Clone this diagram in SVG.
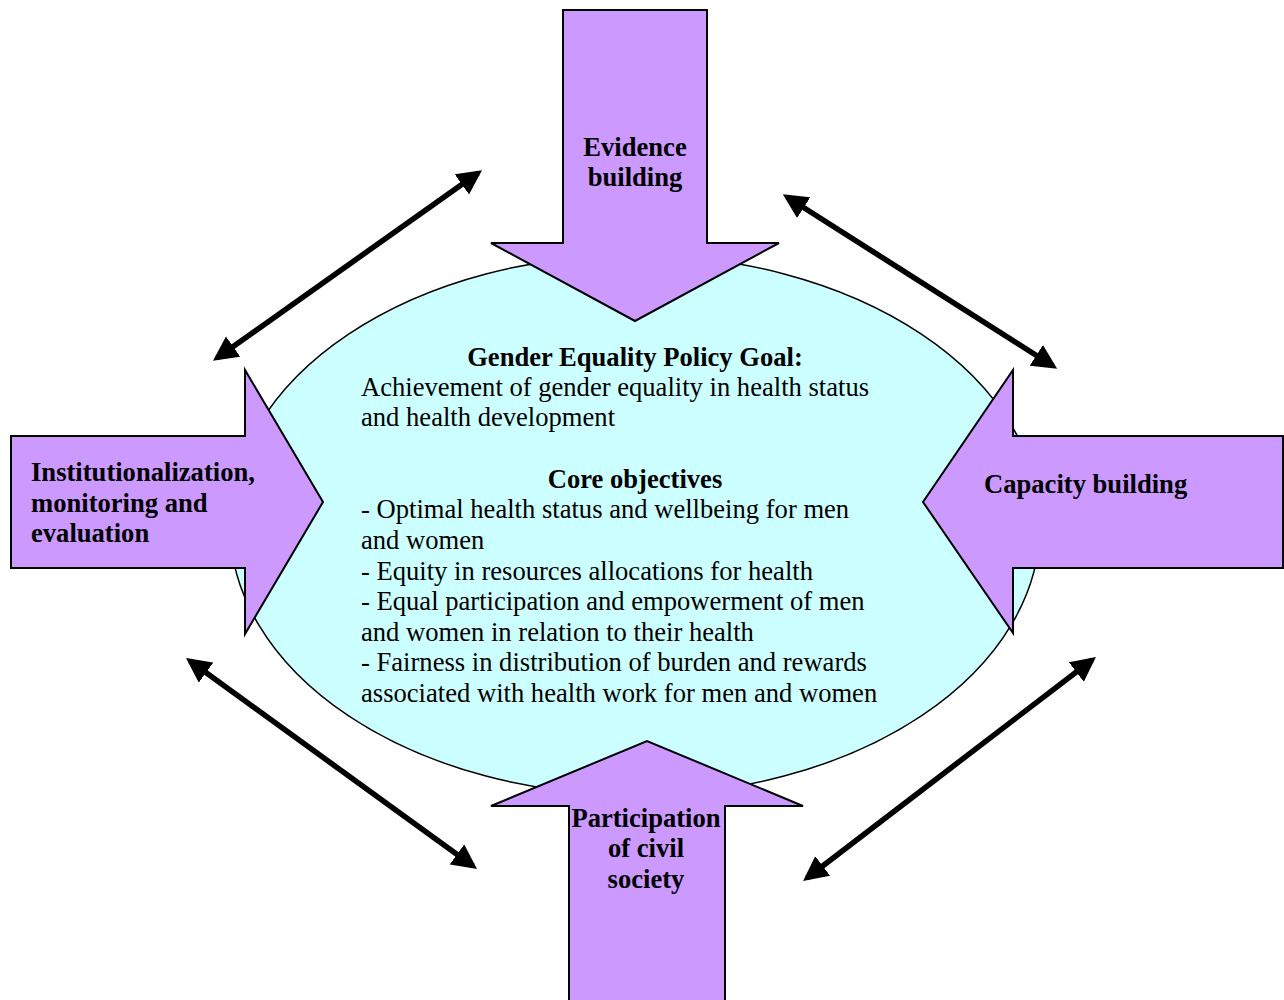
<svg xmlns="http://www.w3.org/2000/svg" width="1284" height="1000" viewBox="0 0 1284 1000">
<defs>
<style>
.arr{fill:#CC99FF;stroke:#000;stroke-width:2;stroke-linejoin:miter}
.t{font-family:"Liberation Serif","Times New Roman",serif;font-size:26.6px;fill:#000}
.b{font-weight:bold}
.c{text-anchor:middle}
.con{stroke:#000;stroke-width:5.5;fill:none;marker-start:url(#ah);marker-end:url(#ah)}
</style>
<marker id="ah" viewBox="0 0 10 10" refX="8" refY="5" markerWidth="4.5" markerHeight="4.5" orient="auto-start-reverse" markerUnits="strokeWidth">
<path d="M0,0 L10,5 L0,10 Z" fill="#000"/>
</marker>
</defs>
<rect width="1284" height="1000" fill="#fff"/>
<g id="goal">
<ellipse cx="635" cy="525" rx="405" ry="270" fill="#CCFFFF" stroke="#000" stroke-width="1.5"/>
</g>
<g id="evidence">
<polygon class="arr" points="563,10 707,10 707,243 779,243 635,321 491,243 563,243"/>
<text class="t b c" x="635" y="156">Evidence</text>
<text class="t b c" x="635" y="186">building</text>
</g>
<g id="institutionalization">
<polygon class="arr" points="11,436 245,436 245,370 323,502 245,634 245,568 11,568"/>
<text class="t b" x="31" y="481">Institutionalization,</text>
<text class="t b" x="31" y="512">monitoring and</text>
<text class="t b" x="31" y="542">evaluation</text>
</g>
<g id="capacity">
<polygon class="arr" points="1283,436 1013,436 1013,370 923,502 1013,633 1013,568 1283,568"/>
<text class="t b" x="984" y="493">Capacity building</text>
</g>
<g id="participation">
<polygon class="arr" points="569,1001 569,806 491,806 647,741 803,806 725,806 725,1001"/>
<text class="t b c" x="646" y="827">Participation</text>
<text class="t b c" x="646" y="857">of civil</text>
<text class="t b c" x="646" y="888">society</text>
</g>
<g id="goal-text">
<text class="t b c" x="635" y="366">Gender Equality Policy Goal:</text>
<text class="t" x="361" y="396">Achievement of gender equality in health status</text>
<text class="t" x="361" y="426">and health development</text>
<text class="t b c" x="635" y="488">Core objectives</text>
<text class="t" x="361" y="518">- Optimal health status and wellbeing for men</text>
<text class="t" x="361" y="549">and women</text>
<text class="t" x="361" y="580">- Equity in resources allocations for health</text>
<text class="t" x="361" y="610">- Equal participation and empowerment of men</text>
<text class="t" x="361" y="641">and women in relation to their health</text>
<text class="t" x="361" y="671">- Fairness in distribution of burden and rewards</text>
<text class="t" x="361" y="702">associated with health work for men and women</text>
</g>
<g id="connectors">
<line class="con" x1="217" y1="358" x2="478" y2="173"/>
<line class="con" x1="787" y1="197" x2="1053" y2="366"/>
<line class="con" x1="190" y1="661" x2="473" y2="866"/>
<line class="con" x1="1092" y1="660" x2="807" y2="878"/>
</g>
</svg>
